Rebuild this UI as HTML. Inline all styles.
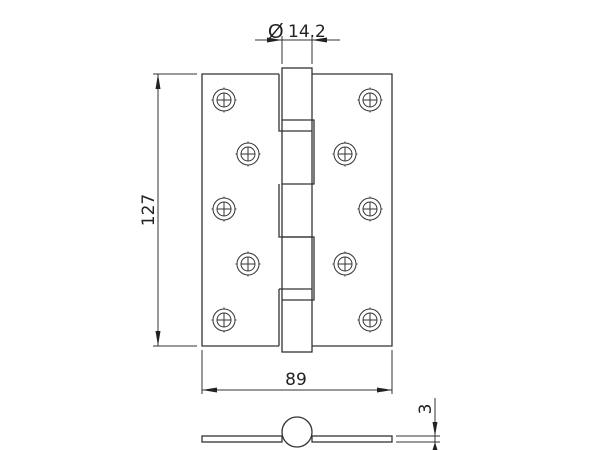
<!DOCTYPE html>
<html><head><style>html,body{margin:0;padding:0;background:#fff}svg{display:block}</style></head>
<body>
<svg width="600" height="450" viewBox="0 0 600 450" xmlns="http://www.w3.org/2000/svg" font-family="'DejaVu Sans','Liberation Sans',sans-serif">
<defs>
<g id="s" fill="none" stroke="#333" stroke-width="1"><circle r="11"/><circle r="7"/><line x1="-7" y1="0" x2="7" y2="0"/><line x1="0" y1="-7" x2="0" y2="7"/><line x1="0" y1="-12.5" x2="0" y2="-10.5"/><line x1="0" y1="10.5" x2="0" y2="12.5"/><line x1="-12.5" y1="0" x2="-10.5" y2="0"/><line x1="10.5" y1="0" x2="12.5" y2="0"/></g>
</defs>
<g fill="none" stroke="#333" stroke-width="1.3">
<polyline points="279,346 202,346 202,74 279,74"/>
<polyline points="312,74 392,74 392,346 312,346"/>
<rect x="282" y="68" width="30" height="284"/>
<polyline points="279,74 279,131 312,131"/>
<polyline points="282,120 314,120 314,184 282,184"/>
<polyline points="279,184 279,237 312,237"/>
<polyline points="282,237 314,237 314,300 282,300"/>
<polyline points="279,289 279,346"/>
<line x1="279" y1="289" x2="312" y2="289"/>
</g>
<use href="#s" x="224" y="100"/>
<use href="#s" x="248" y="154"/>
<use href="#s" x="224" y="209"/>
<use href="#s" x="248" y="264"/>
<use href="#s" x="224" y="320"/>
<use href="#s" x="370" y="100"/>
<use href="#s" x="345" y="154"/>
<use href="#s" x="370" y="209"/>
<use href="#s" x="345" y="264"/>
<use href="#s" x="370" y="320"/>
<g stroke="#333" stroke-width="1" fill="none">
<line x1="282" y1="36" x2="282" y2="64"/>
<line x1="312" y1="36" x2="312" y2="64"/>
<line x1="255" y1="40" x2="340" y2="40"/>
<line x1="153" y1="74" x2="197" y2="74"/>
<line x1="153" y1="346" x2="197" y2="346"/>
<line x1="158" y1="74" x2="158" y2="346"/>
<line x1="202" y1="350" x2="202" y2="394"/>
<line x1="392" y1="350" x2="392" y2="394"/>
<line x1="202" y1="390" x2="392" y2="390"/>
<line x1="396" y1="436" x2="440" y2="436"/>
<line x1="396" y1="442" x2="440" y2="442"/>
<line x1="435" y1="398" x2="435" y2="450"/>
</g>
<g fill="#222">
<polygon points="282,40 267,37.5 267,42.5"/>
<polygon points="312,40 327,37.5 327,42.5"/>
<polygon points="158,74 155.5,89 160.5,89"/>
<polygon points="158,346 155.5,331 160.5,331"/>
<polygon points="202,390 217,387.5 217,392.5"/>
<polygon points="392,390 377,387.5 377,392.5"/>
<polygon points="435,436 432.5,422 437.5,422"/>
<polygon points="435,442 432.5,450 437.5,450"/>
</g>
<g fill="none" stroke="#333" stroke-width="1.3">
<rect x="202" y="436" width="80" height="6" fill="#fff"/>
<rect x="312" y="436" width="80" height="6" fill="#fff"/>
<circle cx="297" cy="432" r="15" fill="#fff"/>
</g>
<g fill="#222" font-size="17">
<text x="268" y="38" font-family="'Liberation Sans',sans-serif" font-size="20" font-weight="normal">Ø</text>
<text x="288" y="37">14.2</text>
<text x="296" y="385" text-anchor="middle">89</text>
<text transform="translate(154,210) rotate(-90)" text-anchor="middle">127</text>
<text transform="translate(431,409) rotate(-90)" text-anchor="middle">3</text>
</g>
</svg>
</body></html>
